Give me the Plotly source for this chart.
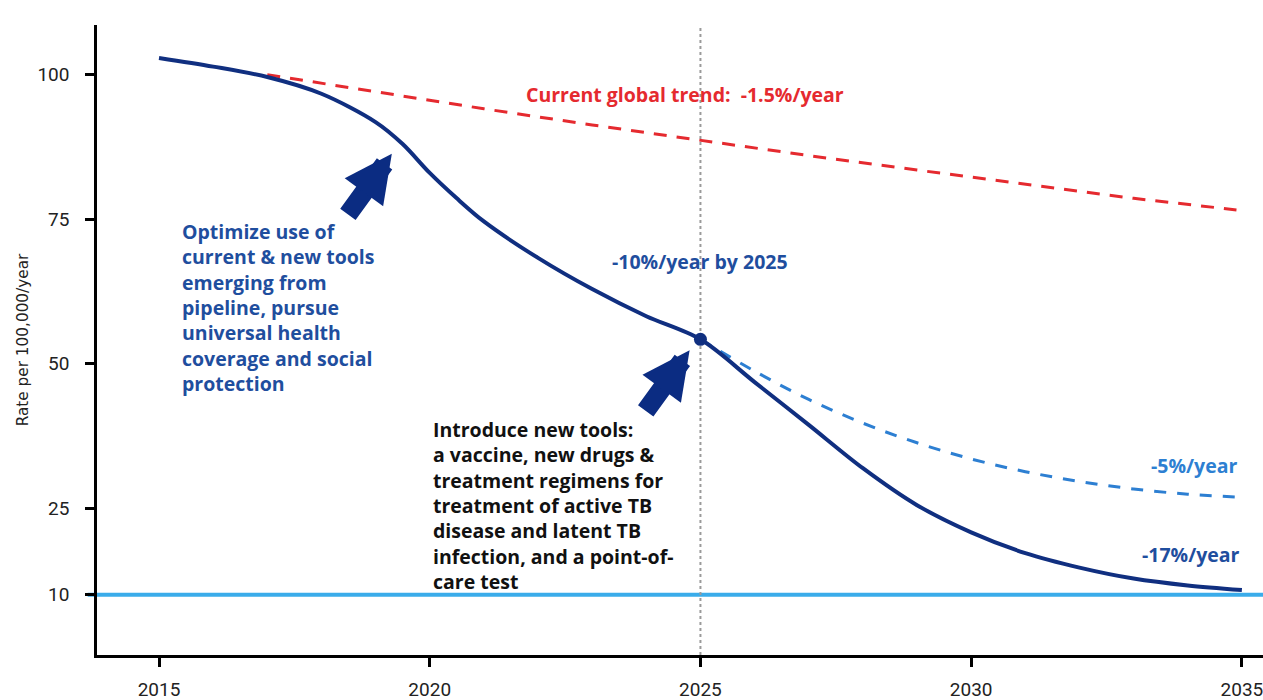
import plotly.graph_objects as go

# ---- data ----
years_main = [2015, 2016, 2017, 2018, 2019, 2019.5, 2020, 2020.5, 2021, 2022, 2023, 2024, 2025,
              2026, 2027, 2028, 2029, 2030, 2031, 2032, 2033, 2034, 2035]
rate_main = [102.9, 101.4, 99.6, 96.7, 91.8, 88.0, 83.0, 78.6, 74.6, 68.3, 62.9, 58.2, 54.2,
             46.8, 39.4, 31.9, 25.5, 20.8, 17.2, 14.7, 12.8, 11.6, 10.8]

years_trend = [2017, 2019, 2021, 2023, 2025, 2027, 2029, 2031, 2033, 2034.9]
rate_trend = [100.0, 97.0, 94.1, 91.3, 88.6, 86.0, 83.5, 81.0, 78.6, 76.6]

years_slow = [2025, 2026, 2027, 2028, 2029, 2030, 2031, 2032, 2033, 2034, 2034.9]
rate_slow = [54.2, 48.7, 43.8, 39.7, 36.3, 33.5, 31.3, 29.6, 28.3, 27.4, 26.9]

milestone_year = [2025]
milestone_rate = [54.2]

target_rate = 10
x_ticks = [2015, 2020, 2025, 2030, 2035]
y_ticks = [10, 25, 50, 75, 100]

NAVY = "#102f80"
RED = "#e52a2f"
LBLUE = "#2d7fd2"
CYAN = "#3aacea"
TXTBLUE = "#1f4e9e"
FONT = "Open Sans"

fig = go.Figure()

fig.add_trace(go.Scatter(x=years_trend, y=rate_trend, mode="lines",
                         line=dict(color=RED, width=3, dash="13px,10px"),
                         hoverinfo="skip"))
fig.add_trace(go.Scatter(x=years_slow, y=rate_slow, mode="lines",
                         line=dict(color=LBLUE, width=3, dash="12px,11px", shape="spline"),
                         hoverinfo="skip"))
fig.add_trace(go.Scatter(x=years_main, y=rate_main, mode="lines",
                         line=dict(color=NAVY, width=4, shape="spline", smoothing=0.9),
                         hoverinfo="skip"))
fig.add_trace(go.Scatter(x=milestone_year, y=milestone_rate, mode="markers",
                         marker=dict(color=NAVY, size=13), hoverinfo="skip"))

# target line and 2025 marker line
fig.add_shape(type="line", xref="paper", yref="y", x0=-0.008, x1=1,
              y0=target_rate, y1=target_rate, line=dict(color=CYAN, width=4), layer="below")
fig.add_shape(type="line", xref="x", yref="paper", x0=milestone_year[0], x1=milestone_year[0],
              y0=0, y1=1, line=dict(color="#9a9a9a", width=2, dash="dot"), layer="below")

bold = dict(family=FONT, size=19.5, weight="bold")

fig.add_annotation(x=2024.71, y=96.5, text="Current global trend:  -1.5%/year",
                   showarrow=False, xanchor="center", yanchor="middle",
                   font=dict(**bold, color=RED))
fig.add_annotation(x=2025.0, y=67.6, text="-10%/year by 2025",
                   showarrow=False, xanchor="center", yanchor="middle",
                   font=dict(**bold, color=TXTBLUE))
fig.add_annotation(x=2015.39, y=75.5,
                   text="Optimize use of<br>current &amp; new tools<br>emerging from<br>pipeline, pursue<br>universal health<br>coverage and social<br>protection",
                   showarrow=False, xanchor="left", yanchor="top", align="left",
                   font=dict(**bold, color=TXTBLUE))
fig.add_annotation(x=2020.02, y=41.2,
                   text="Introduce new tools:<br>a vaccine, new drugs &amp;<br>treatment regimens for<br>treatment of active TB<br>disease and latent TB<br>infection, and a point-of-<br>care test",
                   showarrow=False, xanchor="left", yanchor="top", align="left",
                   font=dict(**bold, color="#111111"))
fig.add_annotation(x=2034.95, y=32.4, text="-5%/year",
                   showarrow=False, xanchor="right", yanchor="middle",
                   font=dict(**bold, color=LBLUE))
fig.add_annotation(x=2035.0, y=16.9, text="-17%/year",
                   showarrow=False, xanchor="right", yanchor="middle",
                   font=dict(**bold, color=TXTBLUE))

# block arrows
fig.add_annotation(x=2019.3, y=86.3, ax=-45, ay=62, text="", showarrow=True,
                   arrowhead=2, arrowsize=0.5, arrowwidth=19, arrowcolor="#0b2c82", standoff=0)
fig.add_annotation(x=2024.8, y=52.3, ax=-45, ay=62, text="", showarrow=True,
                   arrowhead=2, arrowsize=0.5, arrowwidth=19, arrowcolor="#0b2c82", standoff=0)

fig.update_layout(
    width=1263, height=700,
    margin=dict(l=97, r=0, t=25, b=45),
    paper_bgcolor="white", plot_bgcolor="white",
    showlegend=False,
    font=dict(family="Roboto", color="#222222"),
)
fig.update_xaxes(range=[2013.855, 2035.39], tickvals=x_ticks, ticktext=[str(v) for v in x_ticks],
                 showgrid=False, zeroline=False, showline=True, linecolor="black", linewidth=2.5,
                 ticks="outside", ticklen=9, tickwidth=2.5, tickcolor="black",
                 ticklabelstandoff=6, ticklabeloverflow="allow",
                 tickfont=dict(family="Roboto", size=19, color="#222222"))
fig.update_yaxes(range=[-0.43, 108.6], tickvals=y_ticks, ticktext=[str(v) for v in y_ticks],
                 showgrid=False, zeroline=False, showline=True, linecolor="black", linewidth=2.5,
                 ticks="outside", ticklen=9, tickwidth=2.5, tickcolor="black",
                 ticklabelstandoff=12,
                 tickfont=dict(family="Roboto", size=19, color="#222222"),
                 title=dict(text="Rate per 100,000/year", standoff=6,
                            font=dict(family="DejaVu Sans", size=15.3, color="#222222")))

fig.write_html("out.html", config={"displayModeBar": False},
               post_script="document.body.style.margin='0';document.body.style.overflow='hidden';")
